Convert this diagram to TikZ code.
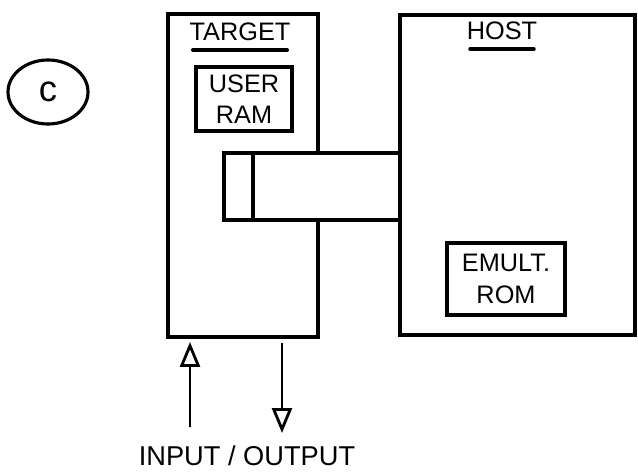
\documentclass[tikz,border=0pt]{standalone}
\usepackage{fontspec}
\setmainfont{Liberation Sans}
\usetikzlibrary{shapes.geometric, arrows.meta, positioning}
\tikzset{
    box/.style={rectangle, draw=black, line width=2pt, fill=white, inner sep=0pt, outer sep=0pt},
    memory/.style={box, align=center, font=\Large, line width=1.8pt},
    title/.style={font=\Large, inner sep=2pt},
    uline/.style={line width=2pt, line cap=round},
    ioarr/.style={-{Triangle[open, length=0.5cm, width=0.4cm, line width=1.6pt]}, line width=1.6pt}
}
\begin{document}
\begin{tikzpicture}[x=0.02cm, y=-0.02cm]
    \useasboundingbox (0,0) rectangle (638,472);
    % marker
    \node[ellipse, draw, line width=1.8pt, minimum width=1.6cm, minimum height=1.28cm, font=\huge] (mark) at (48,92) {c};
    % the two machines
    \node[box, minimum width=3cm, minimum height=6.46cm] (target) at (243,175.5) {};
    \node[box, minimum width=4.7cm, minimum height=6.4cm] (host) at (517.5,175) {};
    \node[title] (tname) at (240,32) {TARGET};
    \draw[uline] ([xshift=4pt, yshift=-3pt]tname.south west) -- ([xshift=-4pt, yshift=-3pt]tname.south east);
    \node[title] (hname) at (502,31) {HOST};
    \draw[uline] ([xshift=4pt, yshift=-3pt]hname.south west) -- ([xshift=-4pt, yshift=-3pt]hname.south east);
    \node[memory, minimum width=1.92cm, minimum height=1.28cm] (ram) at (244,99) {USER\\RAM};
    \node[memory, minimum width=2.36cm, minimum height=1.44cm] (rom) at (506,279) {EMULT.\\ROM};
    % plug and cable between them
    \node[box, minimum width=0.58cm, minimum height=1.34cm] (pin) at (238.5,186.5) {};
    \node[box, minimum width=2.94cm, minimum height=1.34cm, right=0pt of pin] (cable) {};
    % input / output
    \coordinate (inbot) at (190,427);
    \coordinate (outbot) at (282,433);
    \draw[ioarr] (inbot) -- ([yshift=-0.1cm]target.south -| inbot);
    \draw[ioarr] ([yshift=-0.12cm]target.south -| outbot) -- (outbot);
    \node[font=\fontsize{15.5}{18}\selectfont] (io) at (247,456) {INPUT / OUTPUT};
\end{tikzpicture}
\end{document}
